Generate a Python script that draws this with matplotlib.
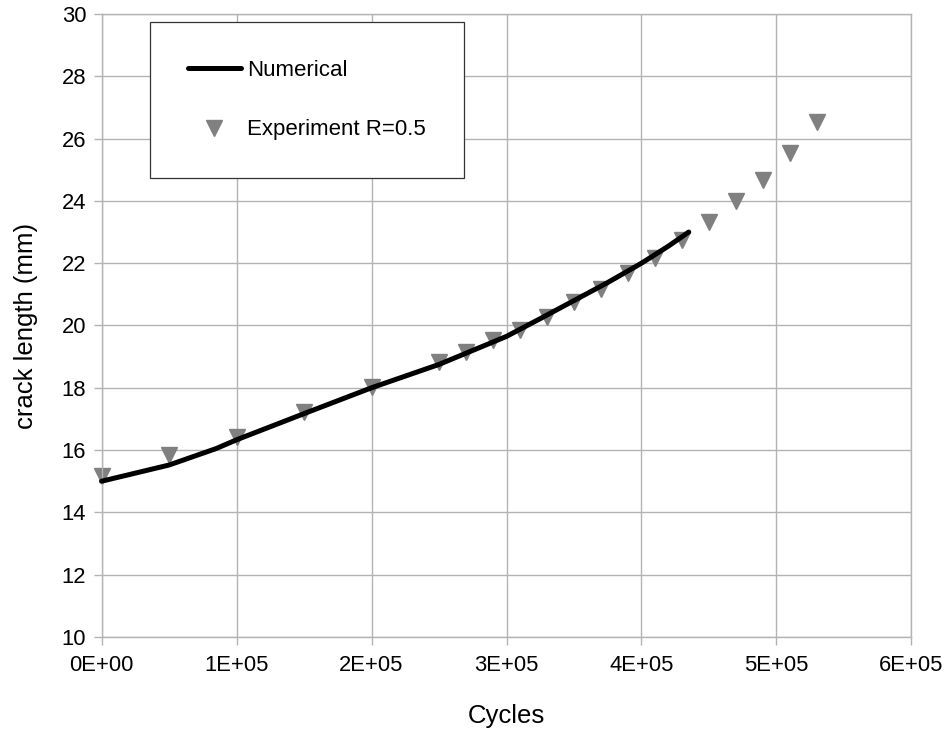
import numpy as np
import matplotlib
matplotlib.use("Agg")
import matplotlib.pyplot as plt

plt.rcParams['font.family'] = ['Liberation Sans', 'DejaVu Sans']

### Data
num_cycles = [0, 50000, 85000, 100000, 150000, 200000, 250000, 300000,
              325000, 350000, 375000, 400000, 420000, 435000]
num_crack = [15.0, 15.52, 16.05, 16.33, 17.17, 18.0, 18.75, 19.65,
             20.22, 20.8, 21.38, 22.0, 22.55, 23.0]

exp_cycles = [0, 50000, 100000, 150000, 200000, 250000, 270000, 290000,
              310000, 330000, 350000, 370000, 390000, 410000, 430000,
              450000, 470000, 490000, 510000, 530000]
exp_crack = [15.17, 15.84, 16.42, 17.22, 18.03, 18.83, 19.15, 19.52,
             19.87, 20.28, 20.75, 21.18, 21.7, 22.18, 22.76,
             23.32, 24.0, 24.67, 25.54, 26.53]

xticks = [0, 100000, 200000, 300000, 400000, 500000, 600000]
xtick_labels = ["0E+00", "1E+05", "2E+05", "3E+05", "4E+05", "5E+05", "6E+05"]
yticks = np.arange(10, 31, 2)

### Style
fs = 18.5
fs_t = 15.8
fs_l = 16
c_grid = "#b3b3b3"

fig = plt.figure(figsize=(9.47, 7.33), dpi=100)
ax = fig.add_axes([0.1072, 0.131, 0.8553, 0.8499])

ax.plot(num_cycles, num_crack, color="black", lw=3.6, solid_capstyle="round",
        label="Numerical", zorder=3, clip_on=False)
ax.plot(exp_cycles, exp_crack, linestyle="none", marker="v", ms=12,
        color="#808080", mec="#808080", label="Experiment R=0.5", zorder=2,
        clip_on=False)

ax.set_xlim(0, 600000)
ax.set_ylim(10, 30)
ax.set_xticks(xticks)
ax.set_xticklabels(xtick_labels)
ax.set_yticks(yticks)

ax.grid(True, color=c_grid, lw=1.0, zorder=0)
ax.set_axisbelow(True)
for sp in ax.spines.values():
    sp.set_color(c_grid)
    sp.set_linewidth(1.0)
ax.tick_params(axis='both', labelsize=fs_t, length=6, width=1.0, color=c_grid)
ax.tick_params(axis='y', pad=5)
ax.tick_params(axis='x', pad=7)

ax.set_xlabel("Cycles", fontsize=fs, labelpad=20)
ax.set_ylabel("crack length (mm)", fontsize=fs, labelpad=17)

legend = ax.legend(loc="upper left", bbox_to_anchor=(0.06, 0.987), fontsize=fs_l,
                   fancybox=False, framealpha=1.0, edgecolor="#333333",
                   borderpad=1.7, labelspacing=1.73, handlelength=2.39,
                   handletextpad=0.27, borderaxespad=0, numpoints=1)
legend.get_frame().set_linewidth(0.9)

plt.savefig("out.png", dpi=100)
